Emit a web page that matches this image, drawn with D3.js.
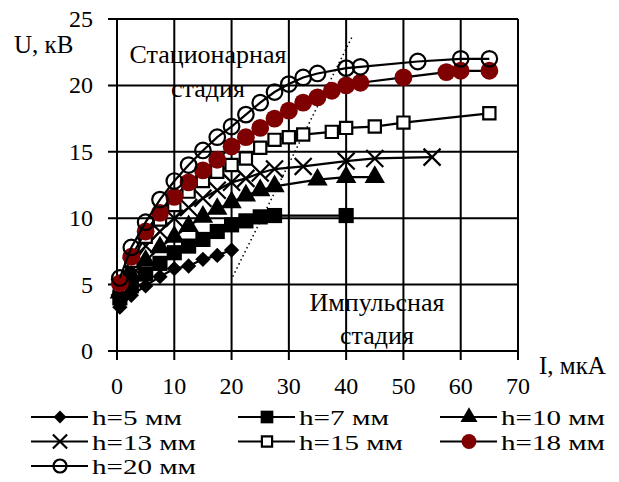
<!DOCTYPE html>
<html>
<head>
<meta charset="utf-8">
<script src="https://cdn.jsdelivr.net/npm/d3@7"></script>
<style>
  body { margin: 0; background: #fff; }
  text { font-family: "Liberation Serif", "Times New Roman", serif; fill: #000; }
</style>
</head>
<body>
<div id="chart"></div>
<script>
// I, мкА for each series
const i5  = [0.5, 2.5, 5, 7.5, 10, 12.5, 15, 17.5, 20];
const u5  = [3.3, 4.2, 4.9, 5.6, 6.2, 6.4, 6.9, 7.2, 7.6];
const i7  = [0.5, 2.5, 5, 7.5, 10, 12.5, 15, 17.5, 20, 22.5, 25, 27.5, 40];
const u7  = [4.0, 4.9, 5.8, 6.6, 7.4, 7.9, 8.4, 9.0, 9.5, 9.8, 10.1, 10.2, 10.2];
const i10 = [0.5, 2.5, 5, 7.5, 10, 12.5, 15, 17.5, 20, 22.5, 25, 27.5, 35, 40, 45];
const u10 = [4.4, 5.7, 6.8, 7.8, 8.6, 9.4, 10.1, 10.7, 11.2, 11.7, 12.1, 12.4, 12.9, 13.1, 13.1];
const i13 = [0.5, 2.5, 5, 7.5, 10, 12.5, 15, 17.5, 20, 22.5, 25, 27.5, 32.5, 40, 45, 55];
const u13 = [4.8, 6.4, 7.9, 9.0, 10.0, 10.8, 11.5, 12.1, 12.7, 13.0, 13.4, 13.7, 13.9, 14.3, 14.5, 14.6];
const i15 = [0.5, 2.5, 5, 7.5, 10, 12.5, 15, 17.5, 20, 22.5, 25, 27.5, 30, 32.5, 37.5, 40, 45, 50, 65];
const u15 = [4.9, 6.8, 8.6, 9.9, 11.0, 12.0, 12.8, 13.5, 14.0, 14.5, 15.3, 15.9, 16.1, 16.3, 16.5, 16.8, 16.9, 17.2, 17.9];
const i18 = [0.5, 2.5, 5, 7.5, 10, 12.5, 15, 17.5, 20, 22.5, 25, 27.5, 30, 32.5, 35, 37.5, 40, 42.5, 50, 57.5, 60, 65];
const u18 = [5.1, 7.1, 9.0, 10.4, 11.6, 12.7, 13.6, 14.4, 15.4, 16.1, 16.8, 17.5, 18.1, 18.7, 19.1, 19.6, 20.0, 20.2, 20.6, 21.0, 21.1, 21.1];
const i20 = [0.5, 2.5, 5, 7.5, 10, 12.5, 15, 17.5, 20, 22.5, 25, 27.5, 30, 32.5, 35, 40, 42.5, 52.5, 60, 65];
const u20 = [5.5, 7.8, 9.7, 11.4, 12.8, 14.0, 15.1, 16.1, 16.9, 17.8, 18.7, 19.5, 20.1, 20.6, 20.9, 21.3, 21.4, 21.8, 22.0, 22.0];

const seriesNames = ["h=5 мм", "h=7 мм", "h=10 мм", "h=13 мм", "h=15 мм", "h=18 мм", "h=20 мм"];
const xTicks = [0, 10, 20, 30, 40, 50, 60, 70];
const yTicks = [0, 5, 10, 15, 20, 25];
// boundary between stages (dotted)
const borderI = [20.2, 41.2];
const borderU = [5.6, 23.8];

const width = 619, height = 482;
const svg = d3.select("#chart").append("svg")
  .attr("width", width).attr("height", height);

const x = d3.scaleLinear().domain([0, 70]).range([117, 518]);
const y = d3.scaleLinear().domain([0, 25]).range([351, 19]);

// stage labels (under the grid, as in the original)
svg.append("text").attr("x", 208).attr("y", 63).attr("text-anchor", "middle").attr("font-size", 26).text("Стационарная");
svg.append("text").attr("x", 208).attr("y", 97).attr("text-anchor", "middle").attr("font-size", 26).text("стадия");
svg.append("text").attr("x", 377).attr("y", 311).attr("text-anchor", "middle").attr("font-size", 26).text("Импульсная");
svg.append("text").attr("x", 377).attr("y", 344).attr("text-anchor", "middle").attr("font-size", 26).text("стадия");

// grid
const grid = svg.append("g").attr("stroke", "#000").attr("stroke-width", 2);
grid.selectAll(".h").data(yTicks).enter().append("line")
  .attr("x1", x(0) - 9).attr("x2", x(70))
  .attr("y1", d => y(d)).attr("y2", d => y(d));
grid.selectAll(".v").data(xTicks).enter().append("line")
  .attr("x1", d => x(d)).attr("x2", d => x(d))
  .attr("y1", y(25)).attr("y2", y(0) + 9);

// tick labels
svg.selectAll(".yl").data(yTicks).enter().append("text")
  .attr("x", x(0) - 24).attr("y", d => y(d) + 8)
  .attr("text-anchor", "end").attr("font-size", 24)
  .text(d => d);
svg.selectAll(".xl").data(xTicks).enter().append("text")
  .attr("x", d => x(d)).attr("y", 394)
  .attr("text-anchor", "middle").attr("font-size", 24)
  .text(d => d);

svg.append("text").attr("x", 14).attr("y", 53).attr("font-size", 25).text("U, кВ");
svg.append("text").attr("x", 539).attr("y", 374).attr("font-size", 25).text("I, мкА");

// dotted stage border
svg.append("line")
  .attr("x1", x(borderI[0])).attr("y1", y(borderU[0]))
  .attr("x2", x(borderI[1])).attr("y2", y(borderU[1]))
  .attr("stroke", "#000").attr("stroke-width", 1.5)
  .attr("stroke-dasharray", "1.5,3");

const dark = "#7f0000";
const markers = [
  {type: d3.symbolDiamond2, size: 150, fill: "#000", stroke: "none"},
  {type: d3.symbolSquare, size: 230, fill: "#000", stroke: "none"},
  {type: d3.symbolTriangle, size: 180, fill: "#000", stroke: "none"},
  {type: d3.symbolTimes, size: 190, fill: "none", stroke: "#000"},
  {type: d3.symbolSquare2, size: 190, fill: "#fff", stroke: "#000"},
  {type: d3.symbolCircle, size: 250, fill: dark, stroke: "none"},
  {type: d3.symbolCircle, size: 190, fill: "none", stroke: "#000"}
];

const allI = [i5, i7, i10, i13, i15, i18, i20];
const allU = [u5, u7, u10, u13, u15, u18, u20];
const series = seriesNames.map((name, k) => ({
  name, m: markers[k],
  pts: allI[k].map((v, j) => [v, allU[k][j]])
}));

const line = d3.line().x(d => x(d[0])).y(d => y(d[1]));

function drawMarker(sel, m, scale) {
  sel.attr("d", d3.symbol().type(m.type).size(m.size * (scale || 1))())
    .attr("fill", m.fill)
    .attr("stroke", m.stroke)
    .attr("stroke-width", 2.2);
}

series.forEach(s => {
  const g = svg.append("g");
  g.append("path").datum(s.pts).attr("d", line)
    .attr("fill", "none").attr("stroke", "#000").attr("stroke-width", 2.2);
  g.selectAll("path.m").data(s.pts).enter().append("path")
    .attr("class", "m")
    .attr("transform", d => `translate(${x(d[0])},${y(d[1])})`)
    .call(drawMarker, s.m);
});

// legend
const legCols = [31, 238, 440];
const legRows = [417, 441.5, 466];
series.forEach((s, k) => {
  const lx = legCols[k % 3], ly = legRows[Math.floor(k / 3)];
  const g = svg.append("g").attr("transform", `translate(${lx},${ly})`);
  g.append("line").attr("x1", 0).attr("x2", 57).attr("y1", 0).attr("y2", 0)
    .attr("stroke", "#000").attr("stroke-width", 2.2);
  g.append("path").attr("transform", "translate(29,0)").call(drawMarker, s.m, 0.7);
  g.append("text").attr("x", 61).attr("y", 8).attr("font-size", 22)
    .attr("textLength", s.name.length > 6 ? 104 : 90).attr("lengthAdjust", "spacingAndGlyphs")
    .text(s.name);
});
</script>
</body>
</html>
